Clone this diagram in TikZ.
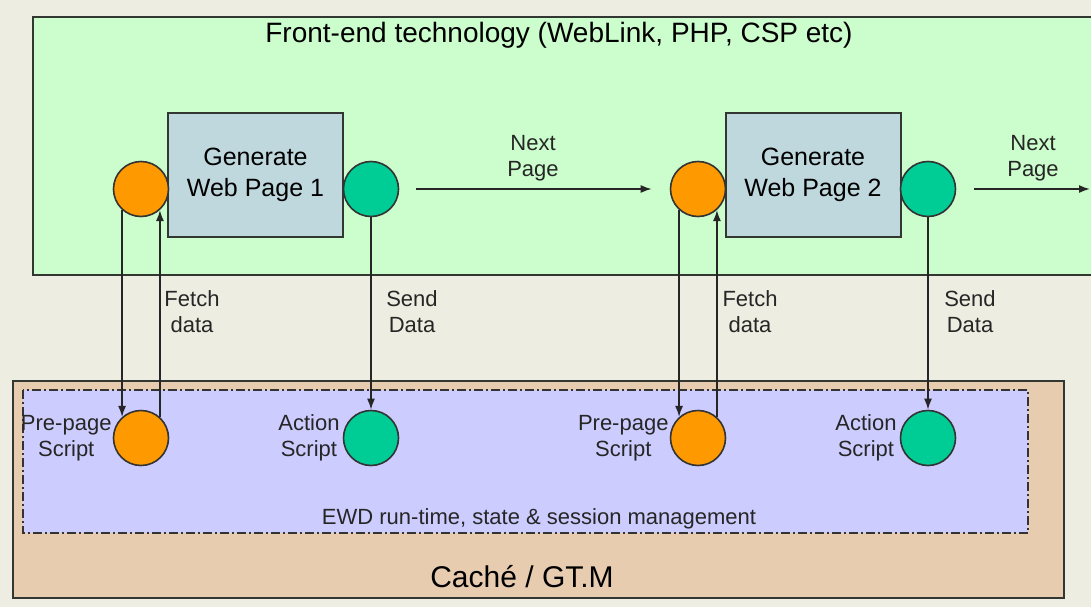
\documentclass[tikz,border=0pt]{standalone}
\usepackage{fontspec}
\setmainfont{Liberation Sans}
\usepackage{tikz}
\usetikzlibrary{positioning,arrows.meta}
\usepackage{xcolor}
\definecolor{bgbeige}{RGB}{238,237,225}
\definecolor{frontgreen}{RGB}{204,253,204}
\definecolor{pageblue}{RGB}{191,216,222}
\definecolor{preorange}{RGB}{255,153,0}
\definecolor{actgreen}{RGB}{0,204,150}
\definecolor{cachebrown}{RGB}{232,204,176}
\definecolor{ewdlilac}{RGB}{204,204,255}
\definecolor{edgegrey}{RGB}{50,55,50}

\begin{document}
\begin{tikzpicture}[x=1pt,y=-1pt,
    pagebox/.style={rectangle,draw=edgegrey,line width=2pt,fill=pageblue,minimum width=175pt,minimum height=124pt,align=center,font=\fontsize{25}{31}\selectfont},
    prescript/.style={circle,draw=black!80,line width=1.6pt,fill=preorange,minimum size=55pt,inner sep=0pt},
    actscript/.style={circle,draw=black!80,line width=1.6pt,fill=actgreen,minimum size=55pt,inner sep=0pt},
    lbl/.style={align=center,inner sep=0pt,text=black!85,font=\fontsize{22}{26}\selectfont},
    flow/.style={line width=1.7pt,draw=black!85,-{Latex[length=11pt,width=8pt]}}]
    \useasboundingbox (0,0) rectangle (1091,607);
    \clip (0,0) rectangle (1091,607);
    \fill[bgbeige] (0,0) rectangle (1091,607);

    % Layers
    \draw[fill=frontgreen,draw=edgegrey,line width=2pt] (33,17) rectangle (1100,275);
    \draw[fill=cachebrown,draw=edgegrey,line width=2pt] (13,381) rectangle (1064,598);
    \draw[fill=ewdlilac,draw=black!80,line width=1.5pt,dash pattern=on 9pt off 3pt on 2pt off 3pt] (23,390) rectangle (1028,533);

    \node (title) at (559,35) [font=\fontsize{28}{30}\selectfont] {Front-end technology (WebLink, PHP, CSP etc)};
    \node (ewd) at (539,519) [lbl] {EWD run-time, state \& session management};
    \node (cache) at (522,577) [font=\fontsize{30}{32}\selectfont] {Caché / GT.M};

    \node (page1) at (255.5,175) [pagebox] {Generate\\Web Page 1};
    \node (pre1) at (141,189) [prescript] {};
    \node (act1) at (371,189) [actscript] {};

    \node (page2) at (813,175) [pagebox] {Generate\\Web Page 2};
    \node (pre2) at (698,189) [prescript] {};
    \node (act2) at (928,189) [actscript] {};
    \coordinate (out2) at (1090,189);

    \node (prescr1) at (141,438) [prescript] {};
    \node (prescr1label) [lbl,left=1pt of prescr1] {Pre-page\\Script};
    \node (actscr1) at (371,438) [actscript] {};
    \node (actscr1label) [lbl,left=3pt of actscr1] {Action\\Script};

    \node (prescr2) at (698,438) [prescript] {};
    \node (prescr2label) [lbl,left=1pt of prescr2] {Pre-page\\Script};
    \node (actscr2) at (928,438) [actscript] {};
    \node (actscr2label) [lbl,left=3pt of actscr2] {Action\\Script};

    \node (next1) at (533,158) [lbl] {Next\\Page};
    \node (next2) at (1033,158) [lbl] {Next\\Page};
    \node (fetch1) at (192,312) [lbl] {Fetch\\data};
    \node (send1) at (412,312) [lbl] {Send\\Data};
    \node (fetch2) at (750,312) [lbl] {Fetch\\data};
    \node (send2) at (970,312) [lbl] {Send\\Data};

    % Arrows
    \draw[flow,shorten <=17pt,shorten >=18pt] (act1) -- (pre2);
    \draw[flow,shorten <=18pt] (act2) -- (out2);
    \draw[flow] (pre1.228) -- (prescr1.132);
    \draw[flow] (prescr1.48) -- (pre1.312);
    \draw[flow] (act1.south) -- (actscr1.north);
    \draw[flow] (pre2.228) -- (prescr2.132);
    \draw[flow] (prescr2.48) -- (pre2.312);
    \draw[flow] (act2.south) -- (actscr2.north);
\end{tikzpicture}
\end{document}
